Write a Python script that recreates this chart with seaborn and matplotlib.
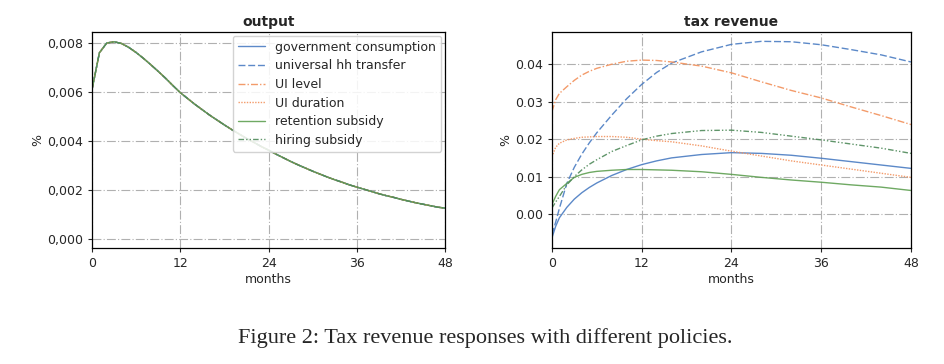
import numpy as np
import pandas as pd
import matplotlib
matplotlib.use("Agg")
import matplotlib.pyplot as plt
from matplotlib.ticker import FuncFormatter, MultipleLocator
import seaborn as sns

# policies
policies = ["government consumption", "universal hh transfer", "UI level",
            "UI duration", "retention subsidy", "hiring subsidy"]

# output response (identical for all policies), monthly 0..48
months_out = list(range(49))
output = [0.00610, 0.00760, 0.00800, 0.00805, 0.00798, 0.00782, 0.00761, 0.00737,
          0.00711, 0.00684, 0.00656, 0.00626, 0.00597, 0.00573, 0.00549, 0.00527,
          0.00505, 0.00485, 0.00465, 0.00446, 0.00428, 0.00410, 0.00394, 0.00377,
          0.00362, 0.00346, 0.00331, 0.00316, 0.00302, 0.00289, 0.00276, 0.00264,
          0.00252, 0.00241, 0.00231, 0.00220, 0.00211, 0.00202, 0.00193, 0.00184,
          0.00176, 0.00169, 0.00161, 0.00154, 0.00147, 0.00141, 0.00135, 0.00129,
          0.00125]

# tax revenue responses
months_tax = [0, 0.5, 1, 2, 3, 4, 5, 6, 8, 10, 12, 14, 16, 20, 24, 28, 32, 36, 40, 44, 48]
tax_gov = [-0.0064, -0.0033, -0.0010, 0.0018, 0.0040, 0.0057, 0.0071, 0.0083, 0.0103,
           0.0119, 0.0132, 0.0142, 0.0150, 0.0159, 0.0164, 0.0162, 0.0157, 0.0149,
           0.0140, 0.0131, 0.0122]
tax_univ = [-0.0055, -0.0022, 0.0015, 0.0082, 0.0125, 0.0160, 0.0190, 0.0217, 0.0264,
            0.0308, 0.0346, 0.0378, 0.0403, 0.0433, 0.0453, 0.0461, 0.0460, 0.0452,
            0.0439, 0.0425, 0.0406]
tax_uilevel = [0.0273, 0.0305, 0.0322, 0.0340, 0.0357, 0.0371, 0.0381, 0.0389, 0.0400,
               0.0408, 0.0411, 0.0410, 0.0406, 0.0395, 0.0377, 0.0353, 0.0330, 0.0310,
               0.0286, 0.0263, 0.0239]
tax_uidur = [0.0153, 0.0178, 0.0189, 0.0198, 0.0202, 0.0205, 0.0206, 0.0207, 0.0207,
             0.0205, 0.0200, 0.0196, 0.0193, 0.0182, 0.0168, 0.0155, 0.0142, 0.0131,
             0.0120, 0.0109, 0.0098]
tax_retention = [0.0025, 0.0047, 0.0065, 0.0082, 0.0098, 0.0106, 0.0111, 0.0114, 0.0117,
                 0.0119, 0.0119, 0.0118, 0.0117, 0.0113, 0.0106, 0.0098, 0.0091, 0.0085,
                 0.0078, 0.0072, 0.0063]
tax_hiring = [0.0016, 0.0032, 0.0047, 0.0078, 0.0100, 0.0118, 0.0133, 0.0145, 0.0167,
              0.0183, 0.0198, 0.0208, 0.0215, 0.0223, 0.0224, 0.0218, 0.0208, 0.0198,
              0.0187, 0.0176, 0.0162]

# styles
blue, orange, green = "#4a7cc2", "#f2905a", "#5fa052"
palette = dict(zip(policies, [blue, blue, orange, orange, green, "#4f8a5a"]))
dashes = dict(zip(policies, ["", (5, 2), (5, 1.5, 1, 1.5), (1, 1), "", (4, 1.5, 1, 1.5, 1, 1.5)]))

# long-form tables
df_out = pd.concat([pd.DataFrame({"months": months_out, "value": output, "policy": p})
                    for p in policies], ignore_index=True)
tax_series = [tax_gov, tax_univ, tax_uilevel, tax_uidur, tax_retention, tax_hiring]
df_tax = pd.concat([pd.DataFrame({"months": months_tax, "value": v, "policy": p})
                    for p, v in zip(policies, tax_series)], ignore_index=True)

sns.set_style("ticks")
plt.rcParams["font.family"] = ["DejaVu Sans"]

fig = plt.figure(figsize=(9.45, 3.64), dpi=100)
ax1 = fig.add_axes([0.0974, 0.3187, 0.3735, 0.5934])
ax2 = fig.add_axes([0.584, 0.3187, 0.380, 0.5934])

for ax, df in [(ax1, df_out), (ax2, df_tax)]:
    sns.lineplot(data=df, x="months", y="value", hue="policy", style="policy",
                 palette=palette, dashes=dashes, hue_order=policies, style_order=policies,
                 linewidth=1.0, alpha=0.9, ax=ax, legend=(ax is ax1))
    ax.set_xlim(0, 48)
    ax.xaxis.set_major_locator(MultipleLocator(12))
    ax.grid(True, color="#b0b0b0", linestyle=(0, (8, 2, 1, 2)), linewidth=0.8)
    ax.set_xlabel("months", fontsize=9, labelpad=2)
    ax.set_ylabel("%", fontsize=9, labelpad=2)
    ax.tick_params(labelsize=9, length=3, width=0.8)
    for s in ax.spines.values():
        s.set_visible(True)
        s.set_color("black")
        s.set_linewidth(0.9)

ax1.set_ylim(-0.00038, 0.00845)
ax1.yaxis.set_major_locator(MultipleLocator(0.002))
ax1.yaxis.set_major_formatter(FuncFormatter(lambda v, _: f"{v:.3f}".replace(".", ",")))
ax1.set_title("output", fontsize=10, fontweight="bold", pad=4)

ax2.set_ylim(-0.00905, 0.0486)
ax2.yaxis.set_major_locator(MultipleLocator(0.01))
ax2.yaxis.set_major_formatter(FuncFormatter(lambda v, _: f"{v:.2f}"))
ax2.set_title("tax revenue", fontsize=10, fontweight="bold", pad=4)

leg = ax1.legend(loc="upper right", fontsize=9, frameon=True, framealpha=0.85,
                 edgecolor="#cccccc", labelspacing=0.45, handlelength=2.2,
                 borderaxespad=0.3)
for line in leg.get_lines():
    line.set_linewidth(1.0)

fig.text(0.513, 0.071, "Figure 2: Tax revenue responses with different policies.",
         ha="center", va="center", fontsize=16, family=["Liberation Serif"])

fig.savefig("out.png", dpi=100)
